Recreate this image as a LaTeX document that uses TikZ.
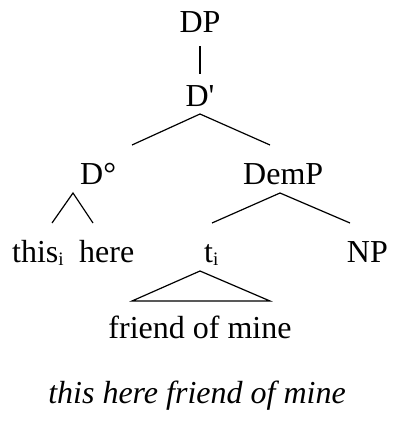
\documentclass[tikz,border=0pt]{standalone}
\usepackage{fontspec}
\setmainfont{Liberation Serif}[Ligatures=TeXOff]
\begin{document}
\begin{tikzpicture}[x=1pt,y=-1pt,
  lbl/.style={inner sep=0pt,font=\rmfamily\fontsize{32}{36}\selectfont},
  branch/.style={line width=1.2pt,line cap=butt,line join=miter}]
\useasboundingbox (0,0) rectangle (393,423);
\newcommand{\subi}{{\fontsize{19}{20}\selectfont\raisebox{-3.5pt}{i}}}

% category labels and words
\node[lbl,anchor=base] (DP) at (200,32) {DP};
\node[lbl,anchor=base] (Dbar) at (200,106) {D\textquotesingle};
\node[lbl,anchor=base west] (D0) at (80,184) {D°};
\node[lbl,anchor=base west] (DemP) at (243,184) {DemP};
\node[lbl,anchor=base west] (this) at (12,262) {this\subi};
\node[lbl,anchor=base west] (here) at (79,262) {here};
\node[lbl,anchor=base west] (t) at (204,262) {t\subi};
\node[lbl,anchor=base east] (NP) at (388,262) {NP};
\node[lbl,anchor=base] (fom) at (200,338) {friend of mine};
\node[lbl,anchor=base,font=\rmfamily\fontsize{32}{36}\selectfont\itshape] (gloss) at (197,403) {this here friend of mine};

% branch end points
\coordinate (DP-foot) at (200,46);
\coordinate (Dbar-head) at (200,74);
\coordinate (Dbar-foot) at (200,114);
\coordinate (D0-head) at (132,145);
\coordinate (DemP-head) at (270,145);
\coordinate (D0-foot) at (73,193);
\coordinate (this-head) at (52,223);
\coordinate (here-head) at (93,223);
\coordinate (DemP-foot) at (280,193);
\coordinate (t-head) at (212,223);
\coordinate (NP-head) at (350,223);
\coordinate (t-foot) at (200,271);
\coordinate (fom-left) at (132,301);
\coordinate (fom-right) at (270,301);

% branches
\draw[branch] (DP-foot) -- (Dbar-head);
\draw[branch] (D0-head) -- (Dbar-foot) -- (DemP-head);
\draw[branch] (this-head) -- (D0-foot) -- (here-head);
\draw[branch] (t-head) -- (DemP-foot) -- (NP-head);
\draw[branch] (t-foot) -- (fom-left) -- (fom-right) -- cycle;
\end{tikzpicture}
\end{document}
